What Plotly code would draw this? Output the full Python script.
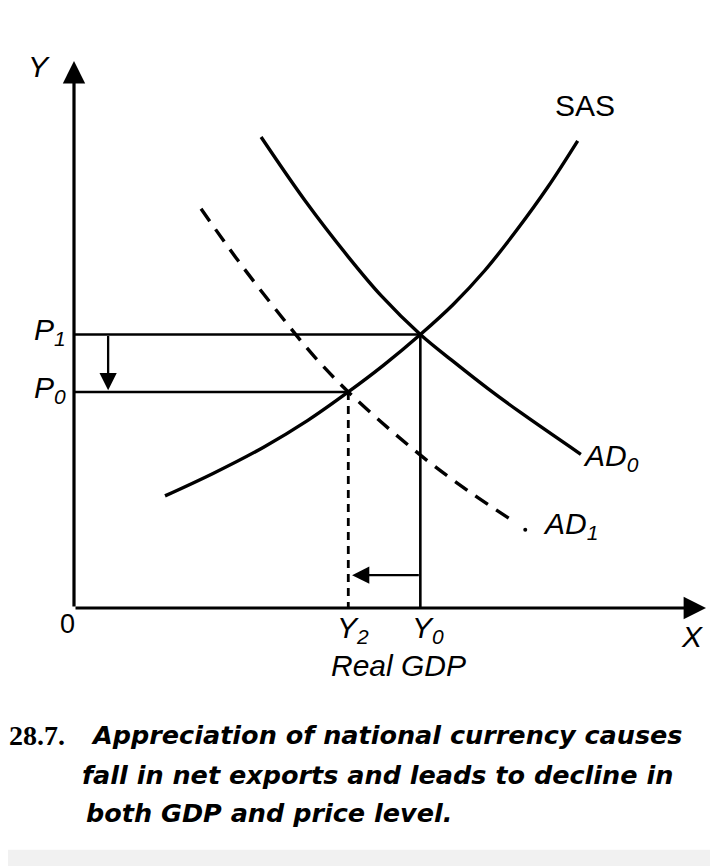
import plotly.graph_objects as go

# ---------------- data (economic units, axes 0..100) ----------------
P1 = 50.0          # initial price level
P0 = 39.5          # new price level
Y0 = 54.8          # initial real GDP
Y2 = 43.4          # new real GDP

sas_x = [14.4, 22.0, 30.0, 37.0, 43.4, 49.0, 54.8, 60.0, 65.0, 70.0, 75.0, 79.7]
sas_y = [20.5, 24.6, 29.4, 34.3, 39.5, 44.4, 50.0, 55.5, 61.7, 69.0, 77.0, 85.4]

ad0_x = [29.6, 36.6, 43.4, 48.6, 54.8, 60.3, 65.5, 70.7, 80.2]
ad0_y = [86.1, 74.4, 64.2, 57.1, 50.0, 44.8, 40.1, 35.7, 28.1]

ad1_x = [20.1, 25.9, 32.8, 38.0, 43.4, 50.0, 56.5, 63.0, 69.5]
ad1_y = [73.0, 63.6, 53.3, 46.0, 39.5, 32.6, 26.4, 20.9, 15.9]

gdp_arrow_level = 6.0       # height of the leftward GDP arrow
price_arrow_x = 5.4         # x of the downward price arrow
ad1_dot = (71.4, 14.3)

caption_num = "28.7."
caption_lines = [
    "Appreciation of national currency causes",
    "fall in net exports and leads to decline in",
    "both GDP and price level.",
]

# ---------------- figure ----------------
W, H = 718, 866
LBL = dict(family="Liberation Sans, Arial, sans-serif", size=30, color="black")

fig = go.Figure()

def curve(xs, ys, width=3.4, dash=None, shape="spline"):
    ln = dict(color="black", width=width, shape=shape)
    if dash:
        ln["dash"] = dash
    fig.add_trace(go.Scatter(x=xs, y=ys, mode="lines", line=ln, hoverinfo="skip"))

curve(sas_x, sas_y)
curve(ad0_x, ad0_y)
curve(ad1_x, ad1_y, dash="15px,10px")
fig.add_trace(go.Scatter(x=[ad1_dot[0]], y=[ad1_dot[1]], mode="markers",
                         marker=dict(color="black", size=4), hoverinfo="skip"))

# guide lines
curve([0, Y0], [P1, P1], width=2.6, shape="linear")
curve([0, Y2], [P0, P0], width=2.6, shape="linear")
curve([Y0, Y0], [P1, 0], width=2.6, shape="linear")
curve([Y2, Y2], [P0, 0], width=2.8, dash="8px,6px", shape="linear")

annotations = []

def arrow(x, y, ax, ay, width=2.5, size=1.3):
    annotations.append(dict(x=x, y=y, ax=ax, ay=ay, xref="x", yref="y",
                            axref="x", ayref="y", text="", showarrow=True,
                            arrowhead=2, arrowsize=size, arrowwidth=width,
                            arrowcolor="black"))

# axes with arrowheads
arrow(0, 100, 0, 0, width=3.2, size=1.4)
arrow(100, 0, 0, 0, width=3.2, size=1.4)
# shift arrows
arrow(price_arrow_x, P0 + 0.3, price_arrow_x, P1, width=2.3, size=1.5)
arrow(Y2 + 0.6, gdp_arrow_level, Y0, gdp_arrow_level, width=2.3, size=1.5)

def label(text, x, y, xanchor="center", yanchor="middle", font=LBL):
    # x, y in axis units (0..100 spans the plotting area) -> paper fraction
    annotations.append(dict(x=x / 100.0, y=y / 100.0, xref="paper", yref="paper",
                            text=text, showarrow=False, xanchor=xanchor,
                            yanchor=yanchor, font=font))

label("<i>Y</i>", -5.6, 99.0)
label("<i>X</i>", 97.8, -5.2)
label("0", -1.0, -2.9, font=dict(LBL, size=27))
label("<i>P<sub>1</sub></i>", -1.0, P1 + 0.6, xanchor="right")
label("<i>P<sub>0</sub></i>", -1.0, P0 + 0.4, xanchor="right")
label("<i>Y<sub>2</sub></i>", Y2 + 0.8, -4.0)
label("<i>Y<sub>0</sub></i>", Y0 + 1.2, -4.0)
label("<i>Real GDP</i>", 51.3, -10.6)
label("SAS", 80.9, 91.8)
label("<i>AD<sub>0</sub></i>", 80.3, 27.6, xanchor="left")
label("<i>AD<sub>1</sub></i>", 73.9, 15.0, xanchor="left")

# caption
CAP = dict(family="DejaVu Sans, sans-serif", size=25.5, color="black")
label("<b>" + caption_num + "</b>", -10.6, -23.3, xanchor="left",
      font=dict(family="Liberation Serif, serif", size=28, color="black"))
cap_x = [2.4, 1.0, 1.6]
cap_y = [-23.3, -30.6, -37.4]
for t, cx, cy in zip(caption_lines, cap_x, cap_y):
    label("<b><i>" + t + "</i></b>", cx, cy, xanchor="left", font=CAP)

fig.update_layout(
    width=W, height=H,
    margin=dict(l=66, r=20, t=53, b=266, pad=0),
    paper_bgcolor="white", plot_bgcolor="white",
    showlegend=False,
    xaxis=dict(range=[0, 100], visible=False, fixedrange=True),
    yaxis=dict(range=[0, 100], visible=False, fixedrange=True),
    annotations=annotations,
    shapes=[dict(type="rect", xref="paper", yref="paper",
                 x0=-0.2, x1=1.1, y0=-0.5, y1=-0.442,
                 fillcolor="#f1f1f1", line=dict(width=0), layer="below")],
)

fig.write_html("out.html")
